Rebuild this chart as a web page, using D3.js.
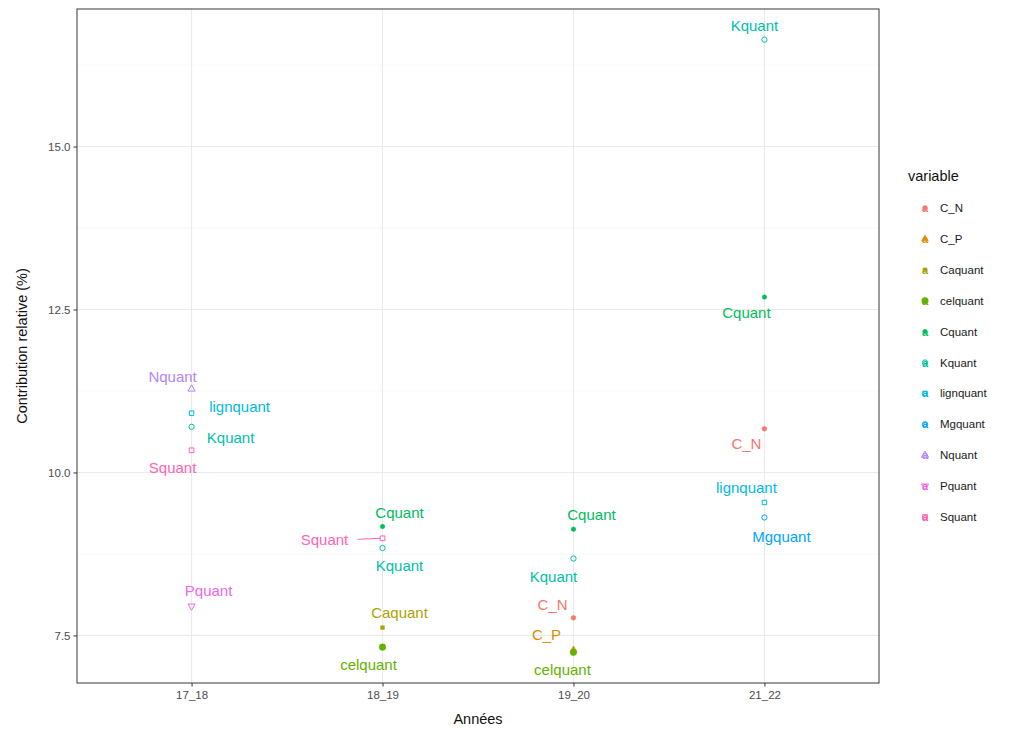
<!DOCTYPE html>
<html>
<head>
<meta charset="utf-8">
<script src="https://cdn.jsdelivr.net/npm/d3@7"></script>
<style>
  html, body { margin: 0; padding: 0; background: #fff; }
  svg { display: block; font-family: "Liberation Sans", Arial, Helvetica, sans-serif; }
</style>
</head>
<body>
<svg id="chart" width="1014" height="729"></svg>
<script>
// Categories
const years = ["17_18", "18_19", "19_20", "21_22"];
const variables = ["C_N", "C_P", "Caquant", "celquant", "Cquant", "Kquant",
                   "lignquant", "Mgquant", "Nquant", "Pquant", "Squant"];
const yTicks = [7.5, 10.0, 12.5, 15.0];

// Observations: year, variable, relative contribution (%)
const obsYear = ["17_18", "17_18", "17_18", "17_18", "17_18",
                 "18_19", "18_19", "18_19", "18_19", "18_19",
                 "19_20", "19_20", "19_20", "19_20", "19_20",
                 "21_22", "21_22", "21_22", "21_22", "21_22"];
const obsVar = ["Nquant", "lignquant", "Kquant", "Squant", "Pquant",
                "Cquant", "Squant", "Kquant", "Caquant", "celquant",
                "Cquant", "Kquant", "C_N", "C_P", "celquant",
                "Kquant", "Cquant", "C_N", "lignquant", "Mgquant"];
const obsValue = [11.28, 10.91, 10.70, 10.34, 7.95,
                  9.17, 8.99, 8.84, 7.62, 7.32,
                  9.13, 8.68, 7.77, 7.28, 7.24,
                  16.64, 12.69, 10.67, 9.54, 9.31];

// Repelled label placement (pixel offsets from each point)
const labelDx = [-19, 48, 39, -19, 17,
                 17, -58, 17, 17, -14,
                 18, -20, -21, -27, -11,
                 -10, -18, -18, -18, 17];
const labelDy = [-13, -7, 11, 17, -16,
                 -14, 1, 17, -15, 17,
                 -15, 18, -13, -15, 17,
                 -14, 15, 15, -15, 19];

// ggplot-style hue palette
const palette = ["#F8766D", "#DB8E00", "#AEA200", "#64B200", "#00BD5C", "#00C1A7",
                 "#00BADE", "#00A6FF", "#B385FF", "#EF67EB", "#FF63B6"];
const color = d3.scaleOrdinal(variables, palette);

// Marker per variable: [symbol, filled, size, rotation]
const shapes = {
  C_N: [d3.symbolCircle, true, 18, 0],
  C_P: [d3.symbolTriangle, true, 20, 0],
  Caquant: [d3.symbolSquare, true, 14, 0],
  celquant: [d3.symbolCircle, true, 34, 0],
  Cquant: [d3.symbolCircle, true, 16, 0],
  Kquant: [d3.symbolCircle, false, 22, 0],
  lignquant: [d3.symbolSquare, false, 20, 0],
  Mgquant: [d3.symbolCircle, false, 22, 0],
  Nquant: [d3.symbolTriangle, false, 22, 0],
  Pquant: [d3.symbolTriangle, false, 22, 180],
  Squant: [d3.symbolSquare, false, 22, 0]
};

const svg = d3.select("#chart");
const margin = { left: 77, right: 135, top: 9, bottom: 46 };
const W = 1014, H = 729;
const pw = W - margin.left - margin.right;
const ph = H - margin.top - margin.bottom;

const x = d3.scalePoint().domain(years).range([0, pw]).padding(0.6);
const dataMin = d3.min(obsValue), dataMax = d3.max(obsValue);
const pad = (dataMax - dataMin) * 0.05;
const y = d3.scaleLinear().domain([dataMin - pad, dataMax + pad]).range([ph, 0]);

const g = svg.append("g").attr("transform", `translate(${margin.left},${margin.top})`);

// Panel background
g.append("rect").attr("width", pw).attr("height", ph).attr("fill", "#fff");

// Minor grid
const minor = yTicks.map(t => t + 1.25).filter(t => y(t) >= 0);
g.selectAll("line.minor").data(minor).join("line")
  .attr("x1", 0).attr("x2", pw)
  .attr("y1", d => y(d)).attr("y2", d => y(d))
  .attr("stroke", "#F2F2F2").attr("stroke-width", 0.6);

// Major grid
g.selectAll("line.ymaj").data(yTicks).join("line")
  .attr("x1", 0).attr("x2", pw)
  .attr("y1", d => y(d)).attr("y2", d => y(d))
  .attr("stroke", "#EBEBEB").attr("stroke-width", 1.1);
g.selectAll("line.xmaj").data(years).join("line")
  .attr("x1", d => x(d)).attr("x2", d => x(d))
  .attr("y1", 0).attr("y2", ph)
  .attr("stroke", "#EBEBEB").attr("stroke-width", 1.1);

// Axes
const yAxis = g.append("g").call(d3.axisLeft(y).tickValues(yTicks).tickFormat(d3.format(".1f")).tickSize(3.5).tickPadding(3));
const xAxis = g.append("g").attr("transform", `translate(0,${ph})`)
  .call(d3.axisBottom(x).tickSize(3.5).tickPadding(4));
[xAxis, yAxis].forEach(a => {
  a.select(".domain").remove();
  a.selectAll(".tick line").attr("stroke", "#333").attr("stroke-width", 1);
  a.selectAll(".tick text").attr("fill", "#4D4D4D").style("font-size", "11.5px")
    .style("font-family", '"Liberation Sans", Arial, sans-serif');
});

// Points
const obs = obsValue.map((v, i) => ({ year: obsYear[i], variable: obsVar[i], value: v, dx: labelDx[i], dy: labelDy[i] }));

function drawMarker(sel, d) {
  const [type, filled, size, rot] = shapes[d.variable];
  const c = color(d.variable);
  sel.append("path")
    .attr("d", d3.symbol().type(type).size(size)())
    .attr("transform", rot ? `rotate(${rot})` : null)
    .attr("fill", filled ? c : "none")
    .attr("stroke", c)
    .attr("stroke-width", filled ? 0.5 : 1);
}

// Repel segment for the crowded 18_19 Squant label
obs.forEach(d => {
  if (Math.abs(d.dx) > 45 && d.variable === "Squant") {
    g.append("line")
      .attr("x1", x(d.year) + d.dx + 33).attr("y1", y(d.value) + d.dy)
      .attr("x2", x(d.year) - 2).attr("y2", y(d.value))
      .attr("stroke", color(d.variable)).attr("stroke-width", 1);
  }
});

obs.forEach(d => {
  const pg = g.append("g").attr("transform", `translate(${x(d.year)},${y(d.value)})`);
  drawMarker(pg, d);
});

// Labels
g.selectAll("text.lab").data(obs).join("text")
  .attr("class", "lab")
  .attr("x", d => x(d.year) + d.dx)
  .attr("y", d => y(d.value) + d.dy)
  .attr("text-anchor", "middle")
  .attr("dominant-baseline", "central")
  .attr("fill", d => color(d.variable))
  .style("font-size", "15px")
  .text(d => d.variable);

// Panel border
g.append("rect").attr("width", pw).attr("height", ph)
  .attr("fill", "none").attr("stroke", "#4a4a4a").attr("stroke-width", 1.1);

// Axis titles
svg.append("text")
  .attr("x", margin.left + pw / 2).attr("y", 719)
  .attr("text-anchor", "middle").attr("dominant-baseline", "central")
  .attr("fill", "#111").style("font-size", "14.5px").text("Années");
svg.append("text")
  .attr("transform", `translate(22,${margin.top + ph / 2}) rotate(-90)`)
  .attr("text-anchor", "middle").attr("dominant-baseline", "central")
  .attr("fill", "#111").style("font-size", "14.5px").text("Contribution relative (%)");

// Legend
const lg = svg.append("g").attr("transform", "translate(908,0)");
lg.append("text").attr("x", 0).attr("y", 176)
  .attr("dominant-baseline", "central").attr("fill", "#111")
  .style("font-size", "14.5px").text("variable");
const ly = d3.scalePoint().domain(variables).range([208, 517]);
variables.forEach(v => {
  const k = lg.append("g").attr("transform", `translate(17,${ly(v)})`);
  k.append("text").attr("text-anchor", "middle").attr("dominant-baseline", "central")
    .attr("fill", color(v)).style("font-size", "11px").style("font-weight", "bold").text("a");
  drawMarker(k, { variable: v });
  lg.append("text").attr("x", 32).attr("y", ly(v))
    .attr("dominant-baseline", "central").attr("fill", "#1a1a1a")
    .style("font-size", "11.5px").text(v);
});
</script>
</body>
</html>
